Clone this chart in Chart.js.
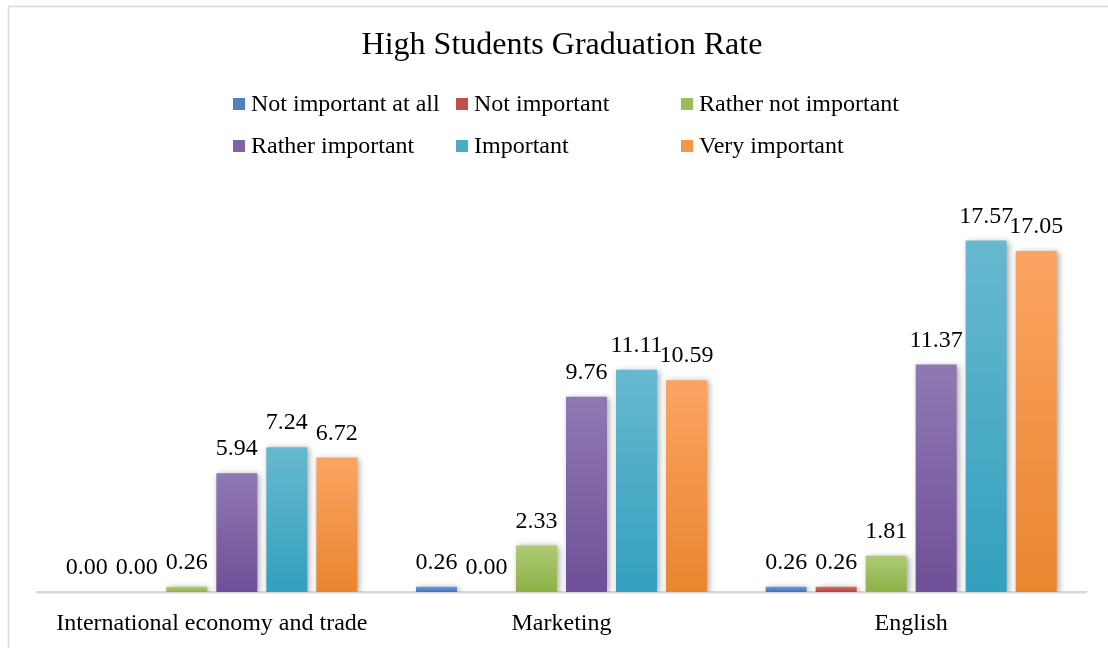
<!DOCTYPE html>
<html>
<head>
<meta charset="utf-8">
<script src="https://cdn.jsdelivr.net/npm/chart.js@4/dist/chart.umd.min.js"></script>
<style>
  html, body { margin: 0; padding: 0; background: #fff; }
  #wrap { width: 1108px; height: 648px; }
</style>
</head>
<body>
<div id="wrap"><canvas id="c" width="1108" height="648"></canvas></div>
<script>
const chartTitle = "High Students Graduation Rate";
const categories = ["International economy and trade", "Marketing", "English"];
const seriesNames = ["Not important at all", "Not important", "Rather not important", "Rather important", "Important", "Very important"];
const notImportantAtAll = [0.00, 0.26, 0.26];
const notImportant = [0.00, 0.00, 0.26];
const ratherNotImportant = [0.26, 2.33, 1.81];
const ratherImportant = [5.94, 9.76, 11.37];
const important = [7.24, 11.11, 17.57];
const veryImportant = [6.72, 10.59, 17.05];
const seriesValues = [notImportantAtAll, notImportant, ratherNotImportant, ratherImportant, important, veryImportant];

// colour styles: [top, middle, bottom]
const palette = [
  ["#6A9AD6", "#4F81BD", "#3F74B8"],
  ["#D26C68", "#C0504D", "#B8403D"],
  ["#AECB74", "#9BBB59", "#8DB047"],
  ["#9079B3", "#8064A2", "#6E4F98"],
  ["#67B8D0", "#4BACC6", "#33A0BD"],
  ["#FBA462", "#F79646", "#EA852F"]
];
const FONT = "'Liberation Serif', 'Times New Roman', serif";

function barGradient(i) {
  return function (ctx) {
    const chart = ctx.chart;
    const area = chart.chartArea;
    if (!area || ctx.raw === undefined || !chart.scales.y) return palette[i][1];
    const y = chart.scales.y;
    const top = y.getPixelForValue(ctx.raw);
    const base = y.getPixelForValue(0);
    if (base - top < 2) return palette[i][1];
    const g = chart.ctx.createLinearGradient(0, top, 0, base);
    g.addColorStop(0, palette[i][0]);
    g.addColorStop(1, palette[i][2]);
    return g;
  };
}

const decorPlugin = {
  id: 'decor',
  beforeDraw(chart) {
    const c = chart.ctx;
    c.save();
    c.fillStyle = '#fff';
    c.fillRect(0, 0, chart.width, chart.height);
    c.strokeStyle = '#D9D9D9';
    c.lineWidth = 1.5;
    c.strokeRect(8.5, 6.5, chart.width + 20, chart.height + 20);
    // title
    c.fillStyle = '#000';
    c.font = "32px " + FONT;
    c.textAlign = 'center';
    c.textBaseline = 'middle';
    c.fillText(chartTitle, 562, 46);
    // legend
    const colX = [233, 456, 681];
    const rowY = [104, 146];
    c.font = "24px " + FONT;
    c.textAlign = 'left';
    chart.data.datasets.forEach((ds, i) => {
      const x = colX[i % 3], y = rowY[Math.floor(i / 3)];
      c.fillStyle = palette[i][1];
      c.fillRect(x, y - 6, 12, 12);
      c.fillStyle = '#000';
      c.fillText(ds.label, x + 18, y + 1);
    });
    c.restore();
  },
  beforeDatasetsDraw(chart) {
    const c = chart.ctx;
    c.save();
    c.shadowColor = 'rgba(0,0,0,0.35)';
    c.shadowBlur = 6;
    c.shadowOffsetX = 2;
    c.shadowOffsetY = 1;
  },
  afterDatasetsDraw(chart) {
    const c = chart.ctx;
    c.restore();
    c.save();
    c.fillStyle = '#000';
    c.font = "24px " + FONT;
    c.textAlign = 'center';
    c.textBaseline = 'middle';
    chart.data.datasets.forEach((ds, i) => {
      const meta = chart.getDatasetMeta(i);
      meta.data.forEach((el, j) => {
        c.fillText(Number(ds.data[j]).toFixed(2), el.x, el.y - 24);
      });
    });
    c.restore();
  }
};

new Chart(document.getElementById('c'), {
  type: 'bar',
  data: {
    labels: categories,
    datasets: seriesNames.map((name, i) => ({
      label: name,
      data: seriesValues[i],
      backgroundColor: barGradient(i),
      borderWidth: 0,
      categoryPercentage: 0.858,
      barPercentage: 0.82
    }))
  },
  options: {
    responsive: false,
    animation: false,
    devicePixelRatio: 1,
    layout: { padding: { left: 37, right: 22, top: 192, bottom: 0 } },
    plugins: {
      legend: { display: false },
      title: { display: false },
      tooltip: { enabled: false }
    },
    scales: {
      y: { display: false, min: 0, max: 20 },
      x: {
        grid: { display: false },
        border: { display: true, color: '#D9D9D9', width: 2.5 },
        ticks: { color: '#000', font: { family: FONT, size: 24, lineHeight: 1 }, padding: 12, maxRotation: 0, autoSkip: false }
      }
    }
  },
  plugins: [decorPlugin]
});
</script>
</body>
</html>
